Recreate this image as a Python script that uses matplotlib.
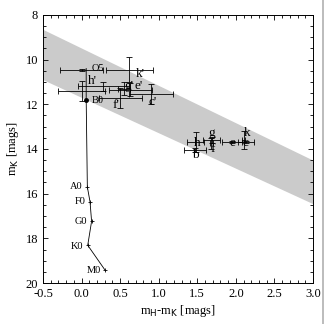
import matplotlib
matplotlib.use("Agg")
import matplotlib.pyplot as plt
from matplotlib.ticker import MultipleLocator

plt.rcParams['font.family'] = ['Liberation Serif', 'DejaVu Serif']

# reddening band (upper / lower edge at x = -0.5 and x = 3.0)
band_x = [-0.5, 3.0]
band_top = [8.65, 14.5]
band_bot = [10.9, 16.45]

# dwarf sequence
sp_type = ["O5", "B0", "A0", "F0", "G0", "K0", "M0"]
sp_hk = [0.06, 0.06, 0.075, 0.11, 0.13, 0.08, 0.30]
sp_k = [10.4, 11.8, 15.7, 16.37, 17.24, 18.31, 19.4]

# primed sources (upper-left group)
p_lab = ["", "k'", "h'", "", "g'", "e'", "c'", "f'"]
p_hk = [0.0, 0.62, 0.28, 0.0, 0.55, 0.63, 0.9, 0.5]
p_k = [10.45, 10.45, 11.2, 11.4, 11.3, 11.35, 11.55, 11.7]
p_xe = [0.28, 0.3, 0.33, 0.3, 0.08, 0.28, 0.28, 0.28]
p_ye = [0.05, 0.55, 0.2, 0.45, 0.3, 0.3, 0.45, 0.45]

# unprimed sources (right group)
u_lab = ["h", "b", "g", "f", "e", "c", "k"]
u_hk = [1.48, 1.47, 1.69, 1.68, 1.95, 2.13, 2.1]
u_k = [13.7, 14.05, 13.6, 13.75, 13.7, 13.7, 13.6]
u_xe = [0.11, 0.14, 0.11, 0.02, 0.13, 0.1, 0.02]
u_ye = [0.45, 0.08, 0.12, 0.25, 0.05, 0.05, 0.4]

fig = plt.figure(figsize=(3.27, 3.24), dpi=100)
ax = fig.add_axes([0.1315, 0.1265, 0.8255, 0.8275])

ax.fill_between(band_x, band_top, band_bot, color="#cbcbcb", lw=0, zorder=1)

ax.plot(sp_hk, sp_k, color="k", lw=0.6, zorder=3)
ax.plot(sp_hk[2:], sp_k[2:], ls="none", marker="+", ms=3, mew=0.6, color="k", zorder=4)
ax.plot(sp_hk[1], sp_k[1], ls="none", marker="o", ms=2.5, color="k", zorder=4)
sp_dx = [0.07, 0.07, -0.06, -0.06, -0.06, -0.06, -0.05]
sp_dy = [0.0, 0.05, 0.0, 0.0, 0.0, 0.05, 0.05]
for t, x, y, dx, dy in zip(sp_type, sp_hk, sp_k, sp_dx, sp_dy):
    ax.text(x + dx, y + dy, t, fontsize=7.5, ha="left" if dx > 0 else "right",
            va="center", zorder=5)

ax.errorbar(p_hk, p_k, xerr=p_xe, yerr=p_ye, fmt="none", ecolor="k",
            elinewidth=0.6, capsize=2, capthick=0.6, zorder=3)
p_dx = [0, 0.14, -0.14, 0, 0.06, 0.11, 0.02, -0.06]
p_dy = [0, 0.2, -0.25, 0, -0.1, -0.15, 0.35, 0.35]
for t, x, y, dx, dy in zip(p_lab, p_hk, p_k, p_dx, p_dy):
    if t:
        ax.text(x + dx, y + dy, t, fontsize=9.5, ha="center", va="center", zorder=5)

ax.errorbar(u_hk, u_k, xerr=u_xe, yerr=u_ye, fmt="none", ecolor="k",
            elinewidth=0.6, capsize=2, capthick=0.6, zorder=3)
u_dy = [0.02, 0.22, -0.32, 0.25, 0.05, 0.05, -0.33]
u_dx = [0.02, 0.0, 0.0, 0.02, 0.0, 0.0, 0.04]
for t, x, y, dx, dy in zip(u_lab, u_hk, u_k, u_dx, u_dy):
    ax.text(x + dx, y + dy, t, fontsize=9.5, ha="center", va="center", zorder=5)

ax.set_xlim(-0.5, 3.0)
ax.set_ylim(20, 8)
ax.xaxis.set_major_locator(MultipleLocator(0.5))
ax.xaxis.set_minor_locator(MultipleLocator(0.1))
ax.yaxis.set_major_locator(MultipleLocator(2))
ax.yaxis.set_minor_locator(MultipleLocator(0.5))
ax.xaxis.set_major_formatter(matplotlib.ticker.FormatStrFormatter("%.1f"))
ax.tick_params(which="both", direction="in", top=True, right=True, labelsize=9,
               width=0.6)
ax.tick_params(which="major", length=3.5)
ax.tick_params(which="minor", length=2)
for s in ax.spines.values():
    s.set_linewidth(0.7)

ax.set_xlabel("m$_{\\rm H}$-m$_{\\rm K}$ [mags]", fontsize=9, labelpad=2)
ax.set_ylabel("m$_{\\rm K}$ [mags]", fontsize=9, labelpad=3)

fig.add_artist(plt.Line2D([0.988, 0.988], [0, 1], color="#b0b0b0", lw=1.2))

fig.savefig("out.png", dpi=100)
